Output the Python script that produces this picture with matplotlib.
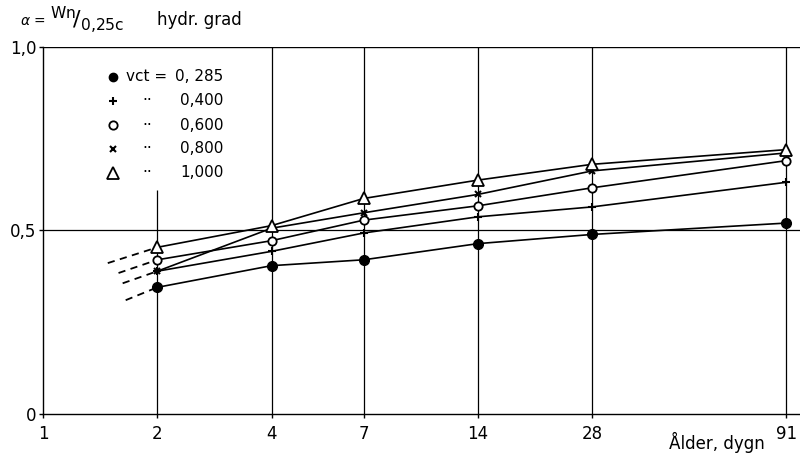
import matplotlib
matplotlib.use('Agg')
import matplotlib.pyplot as plt
from matplotlib.ticker import FixedLocator, NullLocator

plt.rcParams['font.family'] = ['DejaVu Sans']
plt.rcParams['mathtext.fontset'] = 'dejavusans'

# age in days (log axis)
ages = [2, 4, 7, 14, 28, 91]
x_ticks = [1, 2, 4, 7, 14, 28, 91]

# degree of hydration, one list per w/c ratio
vct_0285 = [0.345, 0.404, 0.420, 0.464, 0.489, 0.520]
vct_0400 = [0.389, 0.443, 0.493, 0.537, 0.564, 0.631]
vct_0600 = [0.420, 0.472, 0.528, 0.567, 0.616, 0.690]
vct_0800 = [0.389, 0.506, 0.548, 0.598, 0.662, 0.711]
vct_1000 = [0.454, 0.513, 0.587, 0.637, 0.680, 0.720]

legend_labels = ['0, 285', '0,400', '0,600', '0,800', '1,000']

# dashed extrapolation towards younger ages (start age, start value)
dash_1000 = (1.48, 0.411)
dash_0600 = (1.58, 0.384)
dash_0400 = (1.62, 0.356)
dash_0285 = (1.65, 0.310)

fig = plt.figure(figsize=(8, 4.59), dpi=100)
ax = fig.add_axes([0.054, 0.098, 0.946, 0.80])
ax.set_xscale('log')
ax.set_xlim(1, 99)
ax.set_ylim(0, 1.0)

# grid
for a in ages:
    top = 0.61 if a == 2 else 1.0
    ax.vlines(a, 0, top, color='black', lw=0.9, zorder=1)
ax.axhline(0.5, color='black', lw=0.9, zorder=1)
ax.axhline(1.0, color='black', lw=1.0, zorder=1)

for s in ['right', 'top']:
    ax.spines[s].set_visible(False)
for s in ['left', 'bottom']:
    ax.spines[s].set_linewidth(1.0)

lw = 1.2
series = [
    (vct_0285, dict(marker='o', ms=7, mfc='black', mec='black')),
    (vct_0400, dict(marker='+', ms=6, mew=1.5, mec='black')),
    (vct_0600, dict(marker='o', ms=6, mfc='white', mec='black', mew=1.3)),
    (vct_0800, dict(marker='x', ms=5, mew=1.5, mec='black')),
    (vct_1000, dict(marker='^', ms=9, mfc='white', mec='black', mew=1.3)),
]
for vals, style in series:
    ax.plot(ages, vals, color='black', lw=lw, zorder=3, **style)

for (a0, v0), vals in [(dash_1000, vct_1000), (dash_0600, vct_0600),
                       (dash_0400, vct_0400), (dash_0285, vct_0285)]:
    ax.plot([a0, ages[0]], [v0, vals[0]], color='black', lw=1.3,
            ls=(0, (4, 3)), zorder=2)

# ticks
ax.xaxis.set_major_locator(FixedLocator(x_ticks))
ax.xaxis.set_minor_locator(NullLocator())
ax.set_xticklabels([str(t) for t in x_ticks])
ax.set_yticks([0, 0.5, 1.0])
ax.set_yticklabels(['0', '0,5', '1,0'])
ax.tick_params(axis='both', labelsize=12, length=3, width=1, direction='out')
ax.tick_params(axis='x', pad=5)
ax.tick_params(axis='y', pad=2)

# legend drawn by hand
rows_y = [0.918, 0.853, 0.787, 0.722, 0.657]
for (vals, style), lab, yy in zip(series, legend_labels, rows_y):
    st = dict(style)
    if st.get('marker') == 'o' and st.get('mfc') == 'black':
        st['ms'] = 6
    ax.plot([0.0925], [yy], transform=ax.transAxes, color='black',
            clip_on=False, **st)
    if lab == legend_labels[0]:
        ax.text(0.109, yy, 'vct =', transform=ax.transAxes, fontsize=11,
                va='center', ha='left')
    else:
        ax.text(0.131, yy, '··', transform=ax.transAxes, fontsize=11,
                va='center', ha='left')
    ax.text(0.238, yy, lab, transform=ax.transAxes, fontsize=11,
            va='center', ha='right')

fig.text(0.025, 0.945, r'$\alpha$ =', fontsize=10, va='baseline', ha='left')
fig.text(0.062, 0.94, r'${}^{\mathrm{Wn}}\!/_{0{,}25\mathrm{c}}$',
         fontsize=16, va='baseline', ha='left')
fig.text(0.196, 0.945, 'hydr. grad', fontsize=12, va='baseline', ha='left')
fig.text(0.956, 0.022, 'Ålder, dygn', fontsize=12, va='baseline', ha='right')

fig.savefig('out.png', dpi=100)
